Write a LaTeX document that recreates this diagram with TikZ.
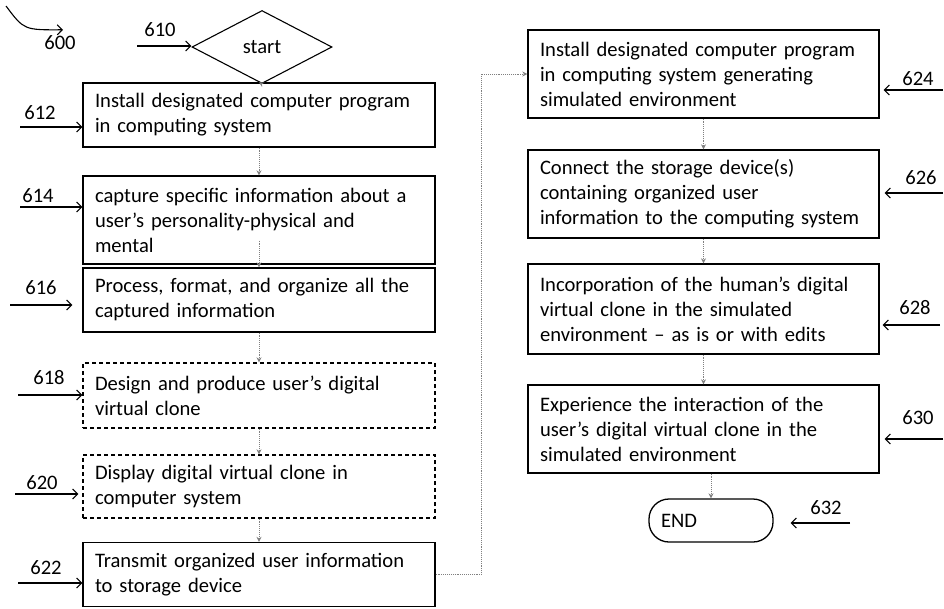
\documentclass[tikz,border=0pt]{standalone}
\usepackage{fontspec}
\setmainfont{Carlito}
\usetikzlibrary{arrows.meta,shapes.geometric}

\begin{document}
\begin{tikzpicture}[x=1pt,y=-1pt,
  every node/.style={font=\fontsize{20.6}{25}\selectfont},
  stepbox/.style={draw, line width=1.3pt, text width=328pt, inner xsep=12pt, inner ysep=0pt, align=left},
  optbox/.style={stepbox, dashed, dash pattern=on 4pt off 3pt},
  lbl/.style={inner sep=0pt},
  lblarrow/.style={line width=1.1pt, -{Straight Barb[length=5pt,width=10pt]}},
  flow/.style={densely dotted, gray, line width=0.9pt, -{Stealth[length=5pt,width=5pt]}}]
\useasboundingbox[fill=white] (0,0) rectangle (944,608);
% left column
\node[diamond, draw, line width=1.1pt, inner sep=0pt, minimum width=140pt, minimum height=73pt] (start) at (262,47){start};
\node[stepbox, minimum height=64pt] (b612) at (259,115){Install designated computer program\\in computing system};
\node[stepbox, minimum height=88pt] (b614) at (259,220){capture specific information about a\\user's personality-physical and\\mental};
\node[stepbox, minimum height=64pt] (b616) at (259,300){Process, format, and organize all the\\captured information};
\node[optbox, minimum height=65pt] (b618) at (259,395.5){Design and produce user's digital\\virtual clone};
\node[optbox, minimum height=63pt] (b620) at (259,486.5){Display digital virtual clone in\\computer system};
\node[stepbox, minimum height=64pt] (b622) at (259,574.5){Transmit organized user information\\to storage device};
% right column
\node[stepbox, text width=327pt, minimum height=88pt] (b624) at (703.5,74){Install designated computer program\\in computing system generating\\simulated environment};
\node[stepbox, text width=327pt, minimum height=88pt] (b626) at (703.5,194){Connect the storage device(s)\\containing organized user\\information to the computing system};
\node[stepbox, text width=327pt, minimum height=90pt] (b628) at (703.5,309){Incorporation of the human's digital\\virtual clone in the simulated\\environment -- as is or with edits};
\node[stepbox, text width=327pt, minimum height=88pt] (b630) at (703.5,429){Experience the interaction of the\\user's digital virtual clone in the\\simulated environment};
\node[draw, line width=1.3pt, rounded corners=20pt, minimum width=124pt, minimum height=43pt, text width=100pt, align=left, inner xsep=12pt] (end) at (711,520.5){END};
% flow
\draw[flow] (start.south) -- (b612.north);
\draw[flow] (b612.south) -- (b614.north);
\draw[flow] ([yshift=24pt]b614.south) -- (b616.north);
\draw[flow] (b616.south) -- (b618.north);
\draw[flow] (b618.south) -- (b620.north);
\draw[flow] (b620.south) -- (b622.north);
\draw[flow] (b622.east) -- ++(46,0) |- (b624.west);
\draw[flow] (b624.south) -- (b626.north);
\draw[flow] (b626.south) -- (b628.north);
\draw[flow] (b628.south) -- (b630.north);
\draw[flow] (b630.south -| end.north) -- (end.north);
% reference numerals
\node[lbl] (l600) at (60,43){600};
\coordinate (c600) at (6,6);
\draw[lblarrow] (c600) .. controls (24,30) .. ([xshift=3pt,yshift=6pt]l600.north);
\node[lbl] (l610) at (160,30){610};
\coordinate (s610) at (137,46);
\draw[lblarrow] (s610) -- (start.west |- s610);
\node[lbl] (l612) at (40,113){612};
\coordinate (s612) at (20,127);
\draw[lblarrow] (s612) -- (s612 -| b612.west);
\node[lbl] (l614) at (38,196){614};
\coordinate (s614) at (20,207);
\draw[lblarrow] (s614) -- (s614 -| b614.west);
\node[lbl] (l616) at (41,288){616};
\coordinate (s616) at (10,305);
\draw[lblarrow] (s616) -- ([xshift=-10pt]s616 -| b616.west);
\node[lbl] (l618) at (49,378){618};
\coordinate (s618) at (18,395);
\draw[lblarrow] (s618) -- (s618 -| b618.west);
\node[lbl] (l620) at (42,483){620};
\coordinate (s620) at (15,494);
\draw[lblarrow] (s620) -- ([xshift=-4pt]s620 -| b620.west);
\node[lbl] (l622) at (46,568){622};
\coordinate (s622) at (18,583);
\draw[lblarrow] (s622) -- (s622 -| b622.west);
\node[lbl] (l624) at (918,79){624};
\coordinate (s624) at (943,90);
\draw[lblarrow] (s624) -- ([xshift=4pt]s624 -| b624.east);
\node[lbl] (l626) at (921,178){626};
\coordinate (s626) at (943,193);
\draw[lblarrow] (s626) -- ([xshift=5pt]s626 -| b626.east);
\node[lbl] (l628) at (915,308){628};
\coordinate (s628) at (940,325);
\draw[lblarrow] (s628) -- ([xshift=3pt]s628 -| b628.east);
\node[lbl] (l630) at (918,418){630};
\coordinate (s630) at (943,439);
\draw[lblarrow] (s630) -- ([xshift=5pt]s630 -| b630.east);
\node[lbl] (l632) at (826,508){632};
\coordinate (s632) at (850,523);
\draw[lblarrow] (s632) -- ([xshift=17pt]s632 -| end.east);
\end{tikzpicture}
\end{document}
